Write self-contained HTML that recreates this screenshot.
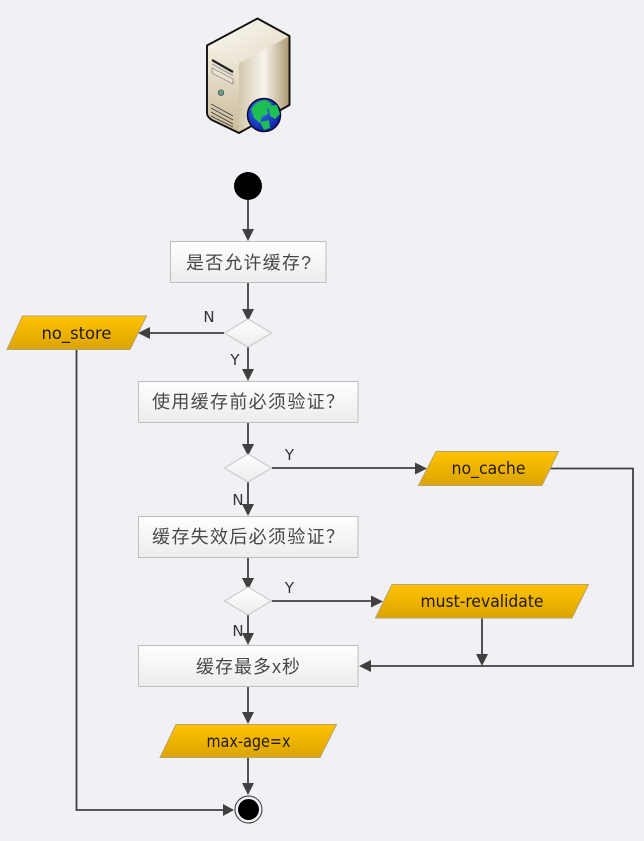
<!DOCTYPE html>
<html><head><meta charset="utf-8">
<style>
html,body{margin:0;padding:0;background:#f1f0f5;width:644px;height:841px;overflow:hidden}
svg{display:block}
.c{font-family:"Liberation Sans","Noto Sans CJK SC",sans-serif;font-size:18px;fill:#484848;text-anchor:middle}
.l{font-family:"DejaVu Sans","Liberation Sans",sans-serif;font-size:17px;fill:#221a05;text-anchor:middle}
.y{font-family:"DejaVu Sans","Liberation Sans",sans-serif;font-size:15px;fill:#333;text-anchor:middle}
</style></head><body>
<svg width="644" height="841" viewBox="0 0 644 841" xmlns="http://www.w3.org/2000/svg">
<defs>
<linearGradient id="box" x1="0" y1="0" x2="0" y2="1"><stop offset="0" stop-color="#fff"/><stop offset="1" stop-color="#ececec"/></linearGradient>
<linearGradient id="gold" x1="0" y1="0" x2="0" y2="1"><stop offset="0" stop-color="#ffc300"/><stop offset="1" stop-color="#dba400"/></linearGradient>
<linearGradient id="front" x1="0" y1="0" x2="0" y2="1"><stop offset="0" stop-color="#f3eee0"/><stop offset="1" stop-color="#c9ba98"/></linearGradient>
<linearGradient id="side" x1="0" y1="0" x2="1" y2="0"><stop offset="0" stop-color="#d3c8ac"/><stop offset=".5" stop-color="#f7f4ec"/><stop offset="1" stop-color="#ab976f"/></linearGradient>
<linearGradient id="top" x1="0" y1="0" x2="1" y2="1"><stop offset="0" stop-color="#fdfbf5"/><stop offset="1" stop-color="#e2dac6"/></linearGradient>
<radialGradient id="globe" cx=".4" cy=".35" r=".7"><stop offset="0" stop-color="#3a6cf0"/><stop offset="1" stop-color="#0a1fa0"/></radialGradient>
</defs>

<!-- server icon -->
<g stroke-linejoin="round">
<path d="M207 45.500L257.500 18.500L289.500 36L239 63Z" fill="url(#top)"/>
<path d="M207 45.500L239 63V133L207 116Z" fill="url(#front)"/>
<path d="M239 63L289.500 36V105L239 133Z" fill="url(#side)"/>
<path d="M207 45.500L257.500 18.500L289.500 36V105L239 133L212 120Q207 117 207 113Z" fill="none" stroke="#111" stroke-width="1.900"/>
<path d="M212 60L233 72" stroke="#222" stroke-width="2.200" fill="none"/>
<path d="M212 68L233 79V84L212 73Z" fill="#e9e3d2" stroke="#777" stroke-width=".7"/>
<path d="M212 64L233 75.500" stroke="#999" stroke-width="1" fill="none"/>
<circle cx="221" cy="92.700" r="2.800" fill="#5fa58a" stroke="#555" stroke-width=".8"/>
<path d="M211 104L233 116M211 108L233 120M211 112L233 124M211 116L233 127" stroke="#444" stroke-width=".9" fill="none"/>
<circle cx="264" cy="115" r="16.500" fill="url(#globe)" stroke="#0b0b33" stroke-width="1.500"/>
<path d="M251 109Q257 100 266 100L272 104L267 109L268 114L262 117L260 123L254 118Z" fill="#1fbe55"/>
<path d="M268 106L277 105L280 114L275 119L270 116Z" fill="#1fbe55"/>
<path d="M260 122L269 120L270 128L264 130Z" fill="#1fbe55"/>
</g>

<!-- connectors -->
<g fill="none" stroke="#404040" stroke-width="1.800">
<path d="M248 198V232"/>
<path d="M248 282V312"/>
<path d="M224 333H148"/>
<path d="M248 347V372"/>
<path d="M248 422V447"/>
<path d="M248 482V507"/>
<path d="M248 557V581"/>
<path d="M248 615V636"/>
<path d="M248 687V714"/>
<path d="M248 757V786"/>
<path d="M272 468H417"/>
<path d="M272 601H373"/>
<path d="M550 468.500H633V666H369"/>
<path d="M482 618V656"/>
<path d="M76.500 349V810H225"/>
</g>
<g fill="#404040">
<path d="M242 229H254L248 241Z"/>
<path d="M242 309H254L248 321Z"/>
<path d="M150 327V339L138 333Z"/>
<path d="M242 369H254L248 381Z"/>
<path d="M242 444H254L248 456Z"/>
<path d="M242 504H254L248 516Z"/>
<path d="M242 578H254L248 590Z"/>
<path d="M242 633H254L248 645Z"/>
<path d="M242 712H254L248 724Z"/>
<path d="M242 783H254L248 795Z"/>
<path d="M415 462.500V474.500L427 468.500Z"/>
<path d="M371 595.500V607.500L383 601.500Z"/>
<path d="M371 660V672L359 666Z"/>
<path d="M476 654H488L482 666Z"/>
<path d="M223 804V816L234 810Z"/>
</g>

<!-- start / end -->
<circle cx="248" cy="186" r="14" fill="#000"/>
<circle cx="248.500" cy="809.500" r="13.500" fill="#f1f0f5" stroke="#333" stroke-width="1"/>
<circle cx="248.500" cy="809.500" r="10.500" fill="#000"/>

<!-- process boxes -->
<g fill="url(#box)" stroke="#bdbdbd" stroke-width="1">
<rect x="170.500" y="241.500" width="155.500" height="41"/>
<rect x="138.500" y="381.500" width="219.500" height="41"/>
<rect x="138.500" y="516.500" width="219.500" height="41"/>
<rect x="138.500" y="645.500" width="219.500" height="41"/>
</g>

<!-- decisions -->
<g fill="url(#box)" stroke="#c4c4c4" stroke-width="1">
<path d="M224.500 333L248 319L271.500 333L248 347Z"/>
<path d="M224.500 468L248 454L271.500 468L248 482Z"/>
<path d="M224.500 601L248 587L271.500 601L248 615Z"/>
</g>

<!-- data shapes -->
<g fill="url(#gold)" stroke="#b9a468" stroke-width="1">
<path d="M22.500 316H146.500L130 349.500H7Z"/>
<path d="M436 451.500H558.500L542 485.500H418.500Z"/>
<path d="M392 584.500H588.500L572 618H375.500Z"/>
<path d="M176 724.500H336.500L320 757.500H160Z"/>
</g>

<!-- labels -->
<text class="c" x="248.500" y="269" textLength="125" lengthAdjust="spacing">是否允许缓存?</text>
<text class="c" x="248" y="408" textLength="192" lengthAdjust="spacing">使用缓存前必须验证？</text>
<text class="c" x="248" y="543" textLength="192" lengthAdjust="spacing">缓存失效后必须验证？</text>
<text class="c" x="248" y="673" textLength="104" lengthAdjust="spacing">缓存最多x秒</text>
<text class="l" x="76.500" y="339" textLength="70" lengthAdjust="spacingAndGlyphs">no_store</text>
<text class="l" x="488.500" y="474" textLength="74" lengthAdjust="spacingAndGlyphs">no_cache</text>
<text class="l" x="482" y="607" textLength="123" lengthAdjust="spacingAndGlyphs">must-revalidate</text>
<text class="l" x="248.500" y="747" textLength="84" lengthAdjust="spacingAndGlyphs">max-age=x</text>
<text class="y" x="209" y="322">N</text>
<text class="y" x="235" y="365">Y</text>
<text class="y" x="289.500" y="460">Y</text>
<text class="y" x="238" y="505">N</text>
<text class="y" x="289.500" y="593">Y</text>
<text class="y" x="238" y="636">N</text>
</svg>
</body></html>
